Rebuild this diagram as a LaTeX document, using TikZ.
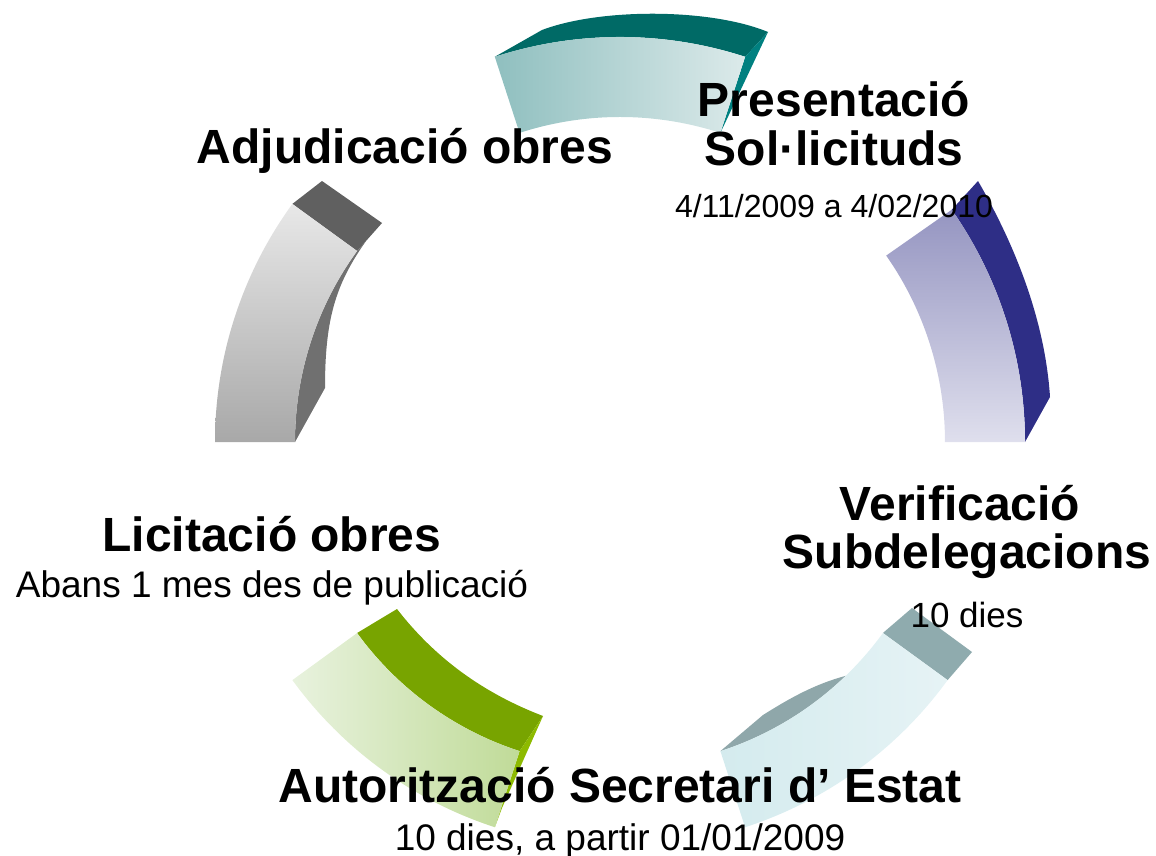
\documentclass[tikz,border=0pt]{standalone}
\usepackage{fontspec}
\setmainfont{Liberation Sans}
\begin{document}
\begin{tikzpicture}[x=1pt,y=1pt,
  lab/.style={font=\fontsize{48}{58}\selectfont\bfseries, inner sep=0pt, anchor=base},
  sub/.style={font=\fontsize{37}{44}\selectfont, inner sep=0pt, anchor=base},
  subs/.style={font=\fontsize{32}{38}\selectfont, inner sep=0pt, anchor=base},
  subm/.style={font=\fontsize{35}{42}\selectfont, inner sep=0pt, anchor=base}]
\definecolor{tealtop}{HTML}{006A66}
\definecolor{tealside}{HTML}{008080}
\definecolor{tealA}{HTML}{8FBFBF}
\definecolor{tealB}{HTML}{DCEAEA}
\definecolor{bluedark}{HTML}{2E2E86}
\definecolor{blueA}{HTML}{9595C1}
\definecolor{blueB}{HTML}{DFDFED}
\definecolor{cyantop}{HTML}{8FABAE}
\definecolor{cyanin}{HTML}{8FA7AA}
\definecolor{cyanA}{HTML}{D4EBEE}
\definecolor{cyanB}{HTML}{E6F3F5}
\definecolor{greentop}{HTML}{78A400}
\definecolor{greenside}{HTML}{8DBA00}
\definecolor{greenA}{HTML}{E8F2DE}
\definecolor{greenB}{HTML}{C0DB98}
\definecolor{graytop}{HTML}{606060}
\definecolor{grayside}{HTML}{707070}
\definecolor{grayA}{HTML}{E8E8E8}
\definecolor{grayB}{HTML}{A8A8A8}
\useasboundingbox (0,0) rectangle (1156,-856);
% ---------- teal (top) ----------
\fill[tealtop] (494.8,-56.8) -- (542,-30) .. controls (600,-8) and (710,-8) .. (768,-32)
  -- (745.2,-56.8) arc[start angle=72, end angle=108, radius=405pt] -- cycle;
\fill[tealside] (768,-32) -- (745.2,-56.8) -- (720.4,-132.9) -- cycle;
\shade[left color=tealA, right color=tealB] (494.8,-56.8) arc[start angle=108, end angle=72, radius=405pt]
  -- (720.4,-132.9) arc[start angle=72, end angle=108, radius=325pt] -- cycle;
% ---------- blue (right) ----------
\fill[bluedark] (951.8,-209.7) -- (978,-181) .. controls (1015,-245) and (1045,-320) .. (1050,-397)
  -- (1025,-442) arc[start angle=0, end angle=35, radius=405pt] -- cycle;
\shade[top color=blueA, bottom color=blueB] (1025,-442) arc[start angle=0, end angle=35, radius=405pt]
  -- (886.2,-255.6) arc[start angle=35, end angle=0, radius=325pt] -- cycle;
% ---------- cyan (bottom right) ----------
\fill[cyantop] (882.9,-633) -- (912,-608) -- (972,-652) -- (947.6,-680.1) -- cycle;
\fill[cyanin] (720.4,-751.1) -- (763,-715) .. controls (790,-698) and (815,-684) .. (845.8,-675.8)
  arc[start angle=-46, end angle=-72, radius=325pt] -- cycle;
\shade[left color=cyanA, right color=cyanB] (947.6,-680.1) arc[start angle=-36, end angle=-72, radius=405pt]
  -- (720.4,-751.1) arc[start angle=-72, end angle=-36, radius=325pt] -- cycle;
% ---------- green (bottom left) ----------
\fill[greentop] (357.1,-633) -- (397,-609) .. controls (435,-658) and (483,-693) .. (543,-716)
  -- (519.6,-751.1) arc[start angle=-108, end angle=-144, radius=325pt] -- cycle;
\fill[greenside] (519.6,-751.1) -- (543,-716) -- (502,-808) -- (494.8,-827.2) -- cycle;
\shade[left color=greenA, right color=greenB] (292.4,-680.1) arc[start angle=-144, end angle=-108, radius=405pt]
  -- (519.6,-751.1) arc[start angle=-108, end angle=-144, radius=325pt] -- cycle;
% ---------- gray (left) ----------
\fill[graytop] (292.4,-203.9) -- (322,-181) -- (382,-223) -- (357.1,-251) -- cycle;
\fill[grayside] (357.1,-251) -- (366,-241) .. controls (335,-285) and (325,-320) .. (325,-388)
  -- (295,-442) arc[start angle=180, end angle=144, radius=325pt] -- cycle;
\shade[top color=grayA, bottom color=grayB] (215,-442) arc[start angle=180, end angle=144, radius=405pt]
  -- (357.1,-251) arc[start angle=144, end angle=180, radius=325pt] -- cycle;
% ---------- labels ----------
\node[lab] (adj) at (405,-164) {Adjudicació obres};
\node[lab] (pres) at (834,-117) {Presentació};
\node[lab] (sol) at (834,-165) {Sol·licituds};
\node[subs] (presd) at (834,-217) {4/11/2009 a 4/02/2010};
\node[lab] (ver) at (960,-520) {Verificació};
\node[lab] (subd) at (967,-568) {Subdelegacions};
\node[subm] (verd) at (967,-627) {10 dies};
\node[lab] (lic) at (272,-551) {Licitació obres};
\node[sub] (licd) at (272,-597) {Abans 1 mes des de publicació};
\node[lab] (aut) at (620,-802) {Autorització Secretari d’ Estat};
\node[sub] (autd) at (620,-850) {10 dies, a partir 01/01/2009};
\end{tikzpicture}
\end{document}
